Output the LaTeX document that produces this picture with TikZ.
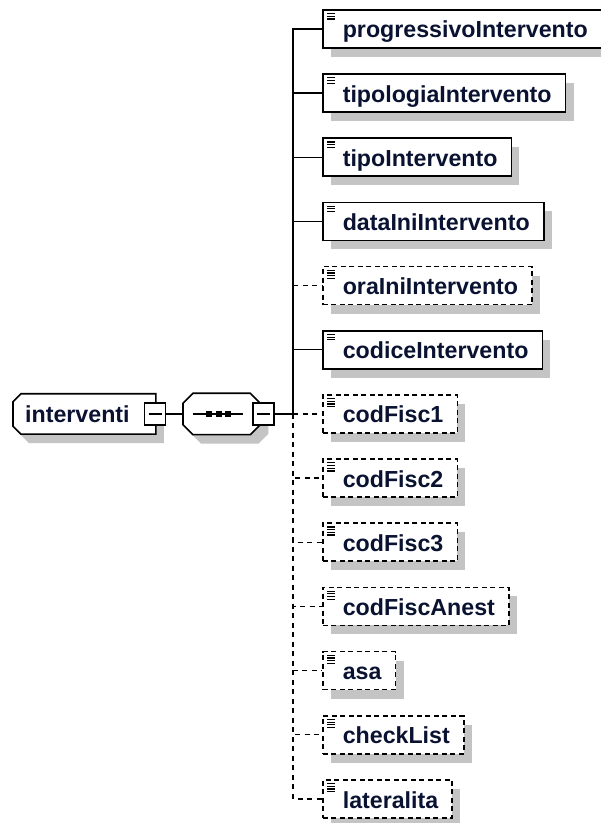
\documentclass[tikz,border=0pt]{standalone}
\usepackage{fontspec}
\newfontfamily\xsdfont{Liberation Sans}
\usetikzlibrary{shadows}
\definecolor{txtblue}{HTML}{0A1232}
\definecolor{shgray}{HTML}{C4C4C4}
\tikzset{
  elem/.style={draw, line width=1.6pt, fill=white, anchor=west,
    font=\xsdfont\bfseries\fontsize{23.2pt}{23pt}\selectfont, text=txtblue,
    minimum height=38pt, inner ysep=0pt, text height=20pt, text depth=2pt,
    inner xsep=14pt, execute at begin node={\hspace*{6pt}},
    drop shadow={shadow xshift=8pt, shadow yshift=-9pt, fill=shgray, opacity=1}},
  optelem/.style={elem, dash pattern=on 5pt off 3.5pt},
  ghost/.style={inner sep=0pt, font=\xsdfont\bfseries\fontsize{23.2pt}{23pt}\selectfont, text=txtblue},
  outline/.style={draw, line width=1.6pt, fill=white},
  minusbox/.style={draw, line width=1.6pt, fill=white, minimum width=21pt, minimum height=22pt, inner sep=0pt,
    path picture={\draw[line width=1.3pt] ([xshift=4pt]path picture bounding box.west) -- ([xshift=-4pt]path picture bounding box.east);}},
  link/.style={line width=1.4pt},
  optlink/.style={link, dash pattern=on 5pt off 4.5pt},
  iconline/.style={line width=1.2pt}
}
% outline of a box with cut corners on the left/right side
\newcommand\cutbox[3]{([yshift=-#2]#1.north west) -- ([xshift=#2]#1.north west) -- ([xshift=-#3]#1.north east) -- ([yshift=-#3]#1.north east) -- ([yshift=#3]#1.south east) -- ([xshift=-#3]#1.south east) -- ([xshift=#2]#1.south west) -- ([yshift=#2]#1.south west) -- cycle}
\begin{document}
\begin{tikzpicture}[x=1pt,y=1pt]
        \fill[white] (0,0) rectangle (601,823);
        \useasboundingbox (0,0) rectangle (601,823);
        %% Root element and sequence
        \node[ghost, anchor=west, minimum height=40pt, inner xsep=12pt] (intv) at (13,409) {interventi\hspace*{14pt}};
        \node[ghost, anchor=west, minimum width=77pt, minimum height=41pt] (seq) at (183,409) {};
        \coordinate (junc) at (293,409);
        %% Children
        \node[elem]    (progr) at (322,794)   {progressivoIntervento};
        \node[elem]    (tipol) at (322,729.8) {tipologiaIntervento};
        \node[elem]    (tipo)  at (322,665.7) {tipoIntervento};
        \node[elem]    (datai) at (322,601.5) {dataIniIntervento};
        \node[optelem] (orai)  at (322,537.3) {oraIniIntervento};
        \node[elem]    (codic) at (322,473.2) {codiceIntervento};
        \node[optelem] (cf1)   at (322,409)   {codFisc1};
        \node[optelem] (cf2)   at (322,344.8) {codFisc2};
        \node[optelem] (cf3)   at (322,280.7) {codFisc3};
        \node[optelem] (cfan)  at (322,216.5) {codFiscAnest};
        \node[optelem] (asa)   at (322,152.3) {asa};
        \node[optelem] (check) at (322,88.2)  {checkList};
        \node[optelem] (later) at (322,24)    {lateralita};
        %% Connectors
        \draw[link] (junc) |- (progr.west);
        \draw[link] (junc) |- (tipol.west);
        \draw[link] (junc) |- (tipo.west);
        \draw[link] (junc) |- (datai.west);
        \draw[link] (junc) |- (codic.west);
        \draw[optlink] (junc |- orai.west) -- (orai.west);
        \foreach \n in {cf1,cf2,cf3,cfan,asa,check,later}
            \draw[optlink] (junc) |- (\n.west);
        %% Shapes on the left
        \fill[shgray, transform canvas={xshift=8pt,yshift=-9pt}] \cutbox{intv}{8pt}{0pt};
        \draw[outline] \cutbox{intv}{8pt}{0pt};
        \node[ghost, anchor=west, minimum height=40pt, inner xsep=12pt] at (intv.west) {interventi\hspace*{14pt}};
        \fill[shgray, transform canvas={xshift=8pt,yshift=-9pt}] \cutbox{seq}{10pt}{10pt};
        \draw[outline] \cutbox{seq}{10pt}{10pt};
        \draw[link] ([xshift=10pt]seq.west) -- ([xshift=60pt]seq.west);
        \foreach \dx in {26,35.5,45}
            \fill ([xshift=\dx pt]seq.west) +(-3,-3) rectangle +(3,3);
        \node[minusbox] (mb1) at (155,409) {};
        \node[minusbox] (mb2) at (263.5,409) {};
        \draw[link] (mb1.east) -- (seq.west);
        \draw[link] (mb2.east) -- (junc);
        %% Icons
        \foreach \n in {progr,tipol,tipo,datai,codic}
            \foreach \d in {4.5,7.2,9.9}
                \draw[iconline] ([xshift=5pt,yshift=-\d pt]\n.north west) -- ++(8,0);
        \foreach \n in {orai,cf1,cf2,cf3,cfan,asa,check,later}
            \foreach \d in {4.5,7.2,9.9,12.6}
                \draw[iconline] ([xshift=5pt,yshift=-\d pt]\n.north west) -- ++(8,0);
    \end{tikzpicture}
\end{document}
